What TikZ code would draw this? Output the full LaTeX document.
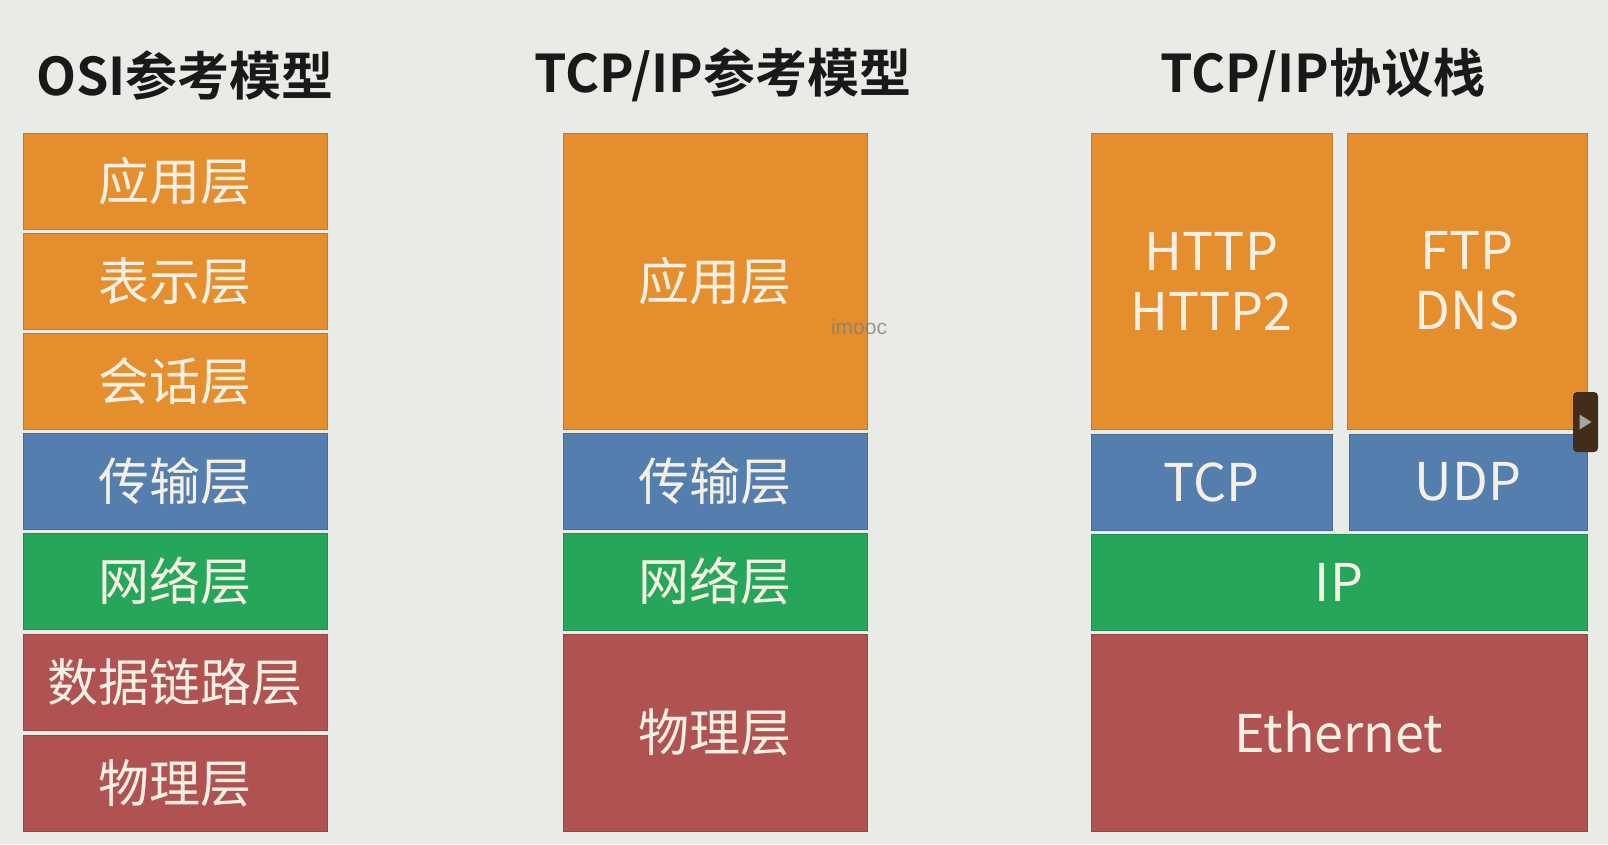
\documentclass[tikz,border=0pt]{standalone}
\usepackage{fontspec}
\newfontfamily\cjk{Noto Sans CJK SC}
\newfontfamily\cjkb{Noto Sans CJK SC Bold}
\newfontfamily\wmfont{Liberation Sans}
\usetikzlibrary{positioning,calc}
\definecolor{bgc}{RGB}{233,235,231}
\definecolor{appc}{RGB}{229,142,46}
\definecolor{trc}{RGB}{84,126,174}
\definecolor{netc}{RGB}{38,166,90}
\definecolor{phyc}{RGB}{176,82,81}
\definecolor{txtc}{RGB}{246,240,228}
\definecolor{tabc}{RGB}{66,46,24}
\tikzset{
  lay/.style={draw=#1!85!black, fill=#1, line width=0.8pt, inner sep=0pt, text=txtc,
    font=\cjk\fontsize{51}{60}\selectfont, align=center},
  app/.style={lay=appc},
  tr/.style={lay=trc},
  net/.style={lay=netc},
  phy/.style={lay=phyc},
  lat/.style={font=\cjk\fontsize{52}{60}\selectfont},
  ttl/.style={font=\cjkb\fontsize{52}{60}\selectfont, text=black!90},
  osi/.style={minimum width=304pt, minimum height=96pt},
}
\begin{document}
\begin{tikzpicture}[x=1pt, y=-1pt]
\fill[bgc] (0,0) rectangle (1608,844);
\useasboundingbox (0,0) rectangle (1608,844);
% titles
\node[ttl] (t1) at (185,75) {OSI参考模型};
\node[ttl] (t2) at (723,75) {TCP/IP参考模型};
\node[ttl] (t3) at (1323,75) {TCP/IP协议栈};
% OSI model
\node[app, osi] (o7) at (175,181) {应用层};
\node[app, osi] (o6) at (175,281) {表示层};
\node[app, osi] (o5) at (175,381) {会话层};
\node[tr,  osi] (o4) at (175,481) {传输层};
\node[net, osi] (o3) at (175,581.5) {网络层};
\node[phy, osi] (o2) at (175,682) {数据链路层};
\node[phy, osi] (o1) at (175,783) {物理层};
% TCP/IP model
\node[app, minimum width=304pt, minimum height=296pt] (m4) at (715,281) {应用层};
\node[tr,  minimum width=304pt, minimum height=96pt] (m3) at (715,481) {传输层};
\node[net, minimum width=304pt, minimum height=97pt] (m2) at (715,581.5) {网络层};
\node[phy, minimum width=304pt, minimum height=197pt] (m1) at (715,732.5) {物理层};
% TCP/IP stack
\node[app, lat, minimum width=241pt, minimum height=296pt] (http) at (1211.5,281) {HTTP\\HTTP2};
\node[app, lat, minimum width=240pt, minimum height=296pt] (ftp) at (1467,281) {FTP\\DNS};
\node[tr,  lat, minimum width=241pt, minimum height=96pt] (tcp) at (1211.5,482) {TCP};
\node[tr,  lat, minimum width=238pt, minimum height=96pt] (udp) at (1468,482) {UDP};
\node[net, lat, minimum width=496pt, minimum height=96pt] (ip) at (1339,582) {IP};
\node[phy, lat, minimum width=496pt, minimum height=197pt] (eth) at (1339,732.5) {Ethernet};
% watermark and player tab
\node[font=\wmfont\fontsize{21}{24}\selectfont, text=black!50, opacity=0.8] (wm) at (859,327) {imooc};
\node[fill=tabc, rounded corners=4pt, minimum width=25pt, minimum height=60pt, inner sep=0pt] (tab) at (1585.5,422) {};
\fill[black!35] ($(tab.center)+(-6,-7.5)$) -- ($(tab.center)+(6,0)$) -- ($(tab.center)+(-6,7.5)$) -- cycle;
\end{tikzpicture}
\end{document}
